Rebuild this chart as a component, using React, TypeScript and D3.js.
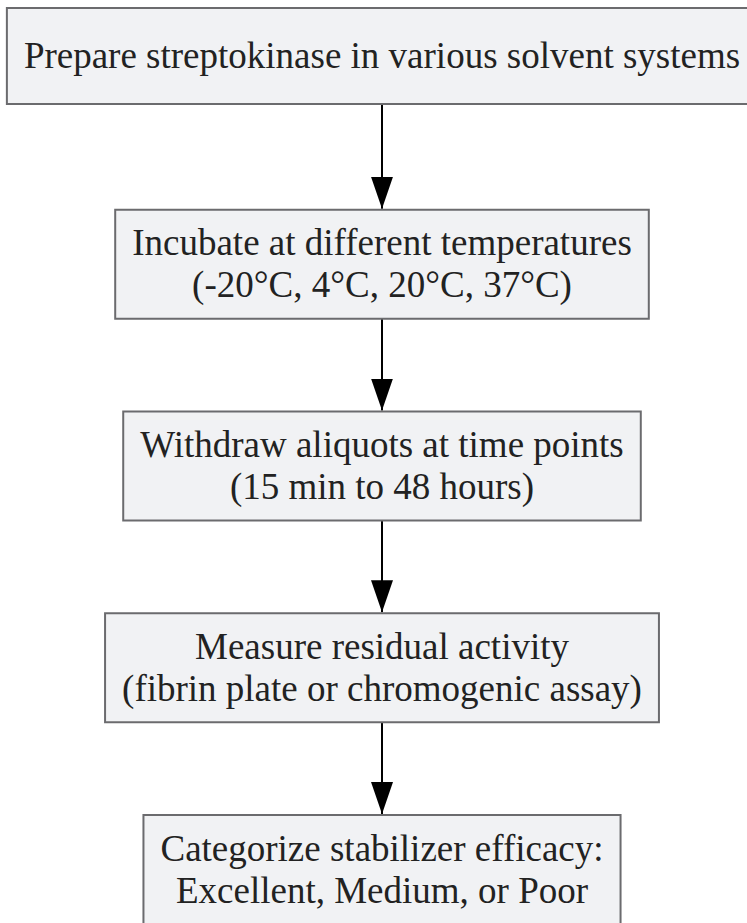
import React, { useRef, useEffect } from "react";
import * as d3 from "d3";

// flowchart steps, one entry per box, each a list of text lines
const steps: string[][] = [
  ["Prepare streptokinase in various solvent systems"],
  ["Incubate at different temperatures", "(-20°C, 4°C, 20°C, 37°C)"],
  ["Withdraw aliquots at time points", "(15 min to 48 hours)"],
  ["Measure residual activity", "(fibrin plate or chromogenic assay)"],
  ["Categorize stabilizer efficacy:", "Excellent, Medium, or Poor"],
];

const width = 747;
const height = 923;

export default function App() {
  const svgRef = useRef<SVGSVGElement>(null);

  useEffect(() => {
    const svg = d3.select(svgRef.current);
    svg.selectAll("*").remove();

    const cx = 382;
    const fontSize = 37;
    const lineH = 42;
    const padX = 17;

    // vertical slot for each step
    const y = d3
      .scaleLinear()
      .domain([0, steps.length - 1])
      .range([8, 815]);

    const boxH = (lines: string[]) => (lines.length === 1 ? 96 : 109);

    const defs = svg.append("defs");
    defs
      .append("marker")
      .attr("id", "head")
      .attr("viewBox", "0 0 32 22")
      .attr("refX", 32)
      .attr("refY", 11)
      .attr("markerWidth", 32)
      .attr("markerHeight", 22)
      .attr("markerUnits", "userSpaceOnUse")
      .attr("orient", "auto")
      .append("path")
      .attr("d", "M0,0 L32,11 L0,22 Z")
      .attr("fill", "#000");

    // arrows between boxes
    svg
      .append("g")
      .selectAll("line")
      .data(d3.range(steps.length - 1))
      .join("line")
      .attr("x1", cx)
      .attr("x2", cx)
      .attr("y1", (i) => y(i) + boxH(steps[i]))
      .attr("y2", (i) => y(i + 1) - 1)
      .attr("stroke", "#000")
      .attr("stroke-width", 2)
      .attr("marker-end", "url(#head)");

    const nodes = svg
      .append("g")
      .selectAll("g")
      .data(steps)
      .join("g");

    const rects = nodes
      .append("rect")
      .attr("y", (_, i) => y(i))
      .attr("height", (d) => boxH(d))
      .attr("fill", "#f1f2f4")
      .attr("stroke", "#6b6b6e")
      .attr("stroke-width", 2);

    const texts = nodes
      .append("text")
      .attr("text-anchor", "middle")
      .attr("font-family", "'Liberation Serif', 'Times New Roman', serif")
      .attr("font-size", fontSize)
      .attr("fill", "#222");

    texts
      .selectAll("tspan")
      .data((d, i) => d.map((t, k) => ({ t, k, n: d.length, i, h: boxH(d) })))
      .join("tspan")
      .attr("x", cx)
      .attr(
        "y",
        (d) => y(d.i) + d.h / 2 + (d.k - (d.n - 1) / 2) * lineH + fontSize * 0.33
      )
      .text((d) => d.t);

    // size each box to its text
    texts.each(function (_, i) {
      const w = (this as SVGTextElement).getBBox().width;
      d3.select(rects.nodes()[i])
        .attr("x", cx - w / 2 - padX)
        .attr("width", w + padX * 2);
    });
  }, []);

  return (
    <div style={{ position: "fixed", left: 0, top: 0 }}>
      <svg ref={svgRef} width={width} height={height} style={{ display: "block", background: "#fff" }} />
    </div>
  );
}
